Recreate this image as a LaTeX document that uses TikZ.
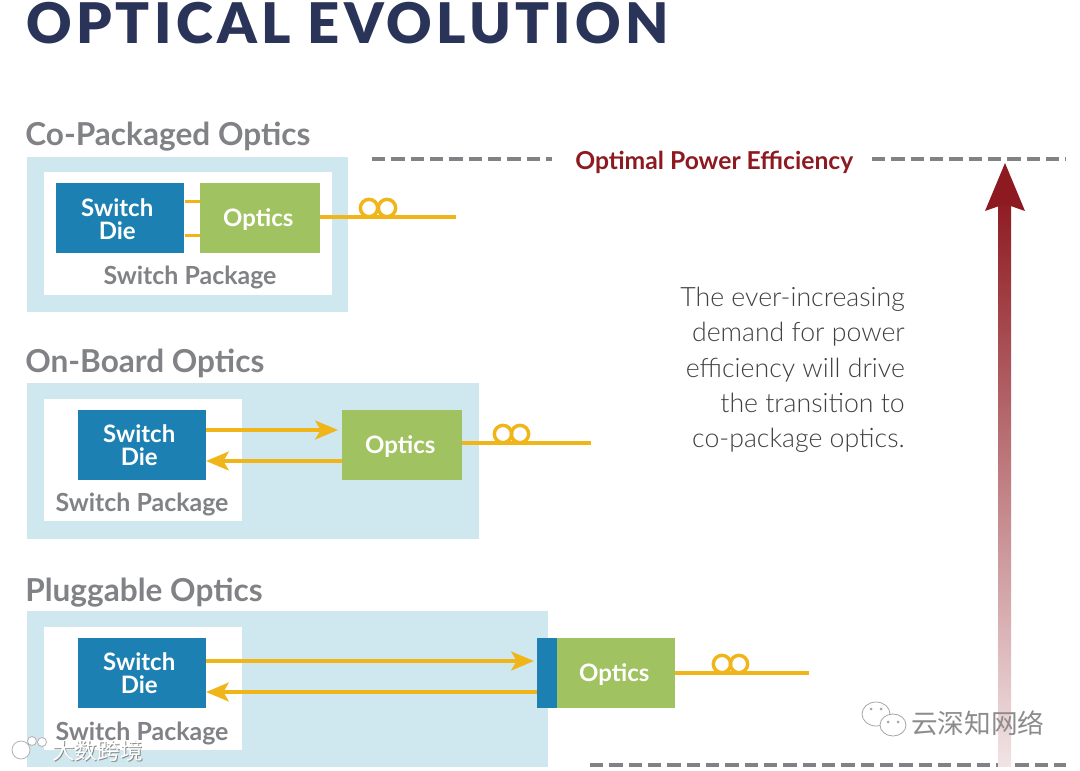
\documentclass[tikz,border=0pt]{standalone}
\usepackage{fontspec}
\setmainfont{Lato}
\newfontfamily\titlefont[LetterSpace=7.6]{Lato Black}
\newfontfamily\lightfont{Lato Light}
\newfontfamily\cjkfont{Noto Sans CJK SC}
\usetikzlibrary{arrows.meta}
\definecolor{navy}{HTML}{2A3358}
\definecolor{grayt}{HTML}{808285}
\definecolor{pale}{HTML}{CFE7EE}
\definecolor{dieblue}{HTML}{1C80B3}
\definecolor{optgreen}{HTML}{A1C261}
\definecolor{fibre}{HTML}{F0B518}
\definecolor{darkred}{HTML}{8E1A21}
\tikzset{
 outerbox/.style={fill=pale,draw=none,inner sep=0pt,anchor=north west},
 innerbox/.style={fill=white,draw=none,inner sep=0pt,anchor=north west},
 diebox/.style={fill=dieblue,inner sep=0pt,anchor=north west,minimum width=96pt,minimum height=52.5pt},
 optbox/.style={fill=optgreen,inner sep=0pt,anchor=north west,minimum width=90pt,minimum height=52.5pt},
 boxtext/.style={text=white,inner sep=0pt,align=center,font=\bfseries\fontsize{18}{17.6}\selectfont},
 headlabel/.style={text=grayt,inner sep=0pt,anchor=base west,font=\bfseries\fontsize{23.7}{24}\selectfont},
 pkglabel/.style={text=grayt,inner sep=0pt,anchor=base,font=\bfseries\fontsize{18.7}{19}\selectfont},
 fibreline/.style={draw=fibre,line width=2.6pt},
 arrowline/.style={draw=fibre,line width=3.2pt,-{Stealth[length=17pt,width=14pt,inset=4pt]}},
 coil/.style={draw=fibre,line width=2.6pt,fill=none,circle,minimum size=13pt,inner sep=0pt},
 dashline/.style={draw=grayt,line width=2.5pt,dash pattern=on 10pt off 4.5pt},
 sidetext/.style={inner sep=0pt,anchor=base east,text=black!75,font=\lightfont\fontsize{20}{20}\selectfont},
 bubble/.style={draw=black!35,fill=white,line width=0.6pt},
}
\begin{document}
\begin{tikzpicture}[x=0.75pt,y=-0.75pt]
\useasboundingbox (0,0) rectangle (1080,770);
% title
\node[anchor=base west,inner sep=0pt,text=navy,font=\titlefont\fontsize{42}{42}\selectfont] (title) at (26,44) {OPTICAL EVOLUTION};
% top band
\node[headlabel] (h1) at (25,146) {Co-Packaged Optics};
\node[outerbox,minimum width=240.75pt,minimum height=116.25pt] (o1) at (27,157) {};
\node[innerbox,minimum width=216pt,minimum height=92.25pt] (i1) at (44,172) {};
\node[diebox] (die1) at (56,183) {};
\node[optbox] (opt1) at (200,183) {};
\draw[fibreline] ([yshift=12.75pt]die1.east) -- ([yshift=12.75pt]opt1.west);
\draw[fibreline] ([yshift=-12.75pt]die1.east) -- ([yshift=-12.75pt]opt1.west);
\node[boxtext] (dt1) at ([shift={(-3,1)}]die1.center) {Switch\\Die};
\node[boxtext] (ot1) at ([shift={(-2,1.5)}]opt1.center) {Optics};
\node[pkglabel] (pk1) at (190,284) {Switch Package};
\coordinate (end1) at (456,217);
\node[coil] (c1a) at (369,208) {};
\node[coil] (c1b) at (387,208) {};
\coordinate (st1) at (320,217);
\draw[fibreline] (st1) -- (end1);
% middle band
\node[headlabel] (h2) at (25,372) {On-Board Optics};
\node[outerbox,minimum width=339pt,minimum height=117pt] (o2) at (27,383) {};
\node[innerbox,minimum width=148.5pt,minimum height=91.5pt] (i2) at (44,399) {};
\node[diebox] (die2) at (78,410) {};
\node[optbox] (opt2) at (342,410) {};
\node[boxtext] (dt2) at ([shift={(-3,0)}]die2.center) {Switch\\Die};
\node[boxtext] (ot2) at ([shift={(-2,1)}]opt2.center) {Optics};
\node[pkglabel] (pk2) at (142,511) {Switch Package};
\coordinate (a2s) at (206,430); \coordinate (a2e) at (338,430);
\coordinate (b2s) at (342,461); \coordinate (b2e) at (206,461);
\draw[arrowline] (a2s) -- (a2e);
\draw[arrowline] (b2s) -- (b2e);
\coordinate (end2) at (591,443);
\node[coil] (c2a) at (503,434) {};
\node[coil] (c2b) at (520,434) {};
\coordinate (st2) at (462,443);
\draw[fibreline] (st2) -- (end2);
% bottom band
\node[headlabel] (h3) at (25,601) {Pluggable Optics};
\node[outerbox,minimum width=390.75pt,minimum height=117pt] (o3) at (27,611) {};
\node[innerbox,minimum width=148.5pt,minimum height=92.25pt] (i3) at (44,627) {};
\node[diebox] (die3) at (78,638) {};
\node[fill=dieblue,inner sep=0pt,anchor=north west,minimum width=15pt,minimum height=52.5pt] (con3) at (537,638) {};
\node[optbox,minimum width=88.5pt] (opt3) at (557,638) {};
\node[boxtext] (dt3) at ([shift={(-3,0)}]die3.center) {Switch\\Die};
\node[boxtext] (ot3) at ([shift={(-2,1)}]opt3.center) {Optics};
\node[pkglabel] (pk3) at (142,740) {Switch Package};
\coordinate (a3s) at (206,661); \coordinate (a3e) at (534,661);
\coordinate (b3s) at (537,692); \coordinate (b3e) at (206,692);
\draw[arrowline] (a3s) -- (a3e);
\draw[arrowline] (b3s) -- (b3e);
\coordinate (end3) at (809,673);
\node[coil] (c3a) at (722,664) {};
\node[coil] (c3b) at (739,664) {};
\coordinate (st3) at (675,673);
\draw[fibreline] (st3) -- (end3);
% efficiency
\coordinate (ds1) at (372,159); \coordinate (de1) at (552,159);
\coordinate (ds2) at (872,159); \coordinate (de2) at (1066,159);
\coordinate (ds3) at (590,765); \coordinate (de3) at (1066,765);
\draw[dashline] (ds1) -- (de1);
\draw[dashline] (ds2) -- (de2);
\draw[dashline] (ds3) -- (de3);
\node[anchor=base west,inner sep=0pt,text=darkred,font=\bfseries\fontsize{18.5}{18.5}\selectfont] (eff) at (575,169) {Optimal Power Efficiency};
\shade[top color=darkred,bottom color=darkred!12] (998,198) rectangle (1011,766);
\fill[darkred] (1005,163) -- (1025,211) -- (1005,204) -- (985,211) -- cycle;
\node[sidetext] (s1) at (905,306) {The ever-increasing};
\node[sidetext] (s2) at (905,341) {demand for power};
\node[sidetext] (s3) at (905,377) {efficiency will drive};
\node[sidetext] (s4) at (905,412) {the transition to};
\node[sidetext] (s5) at (905,447) {co-package optics.};
% watermarks
\path[bubble] (876,714) ellipse [x radius=14,y radius=12];
\path[bubble] (893,725) ellipse [x radius=13,y radius=11];
\fill[black!35] (871,709) circle (1.5) (881,709) circle (1.5) (888,722) circle (1.5) (898,722) circle (1.5);
\node[anchor=base west,inner sep=0pt,text=black!45,font=\cjkfont\fontsize{20}{20}\selectfont] (wm1) at (911,733) {云深知网络};
\path[draw=black!30,fill=white,line width=0.6pt] (21,750) circle (9) (32,741) circle (4.5) (42,742) circle (4.5);
\node[anchor=base west,inner sep=0pt,text=black!45,font=\cjkfont\fontsize{17}{17}\selectfont] (wm2s) at (53,760) {大数跨境};
\node[anchor=base west,inner sep=0pt,text=white,font=\cjkfont\fontsize{17}{17}\selectfont] (wm2) at (52,759) {大数跨境};
\end{tikzpicture}
\end{document}
